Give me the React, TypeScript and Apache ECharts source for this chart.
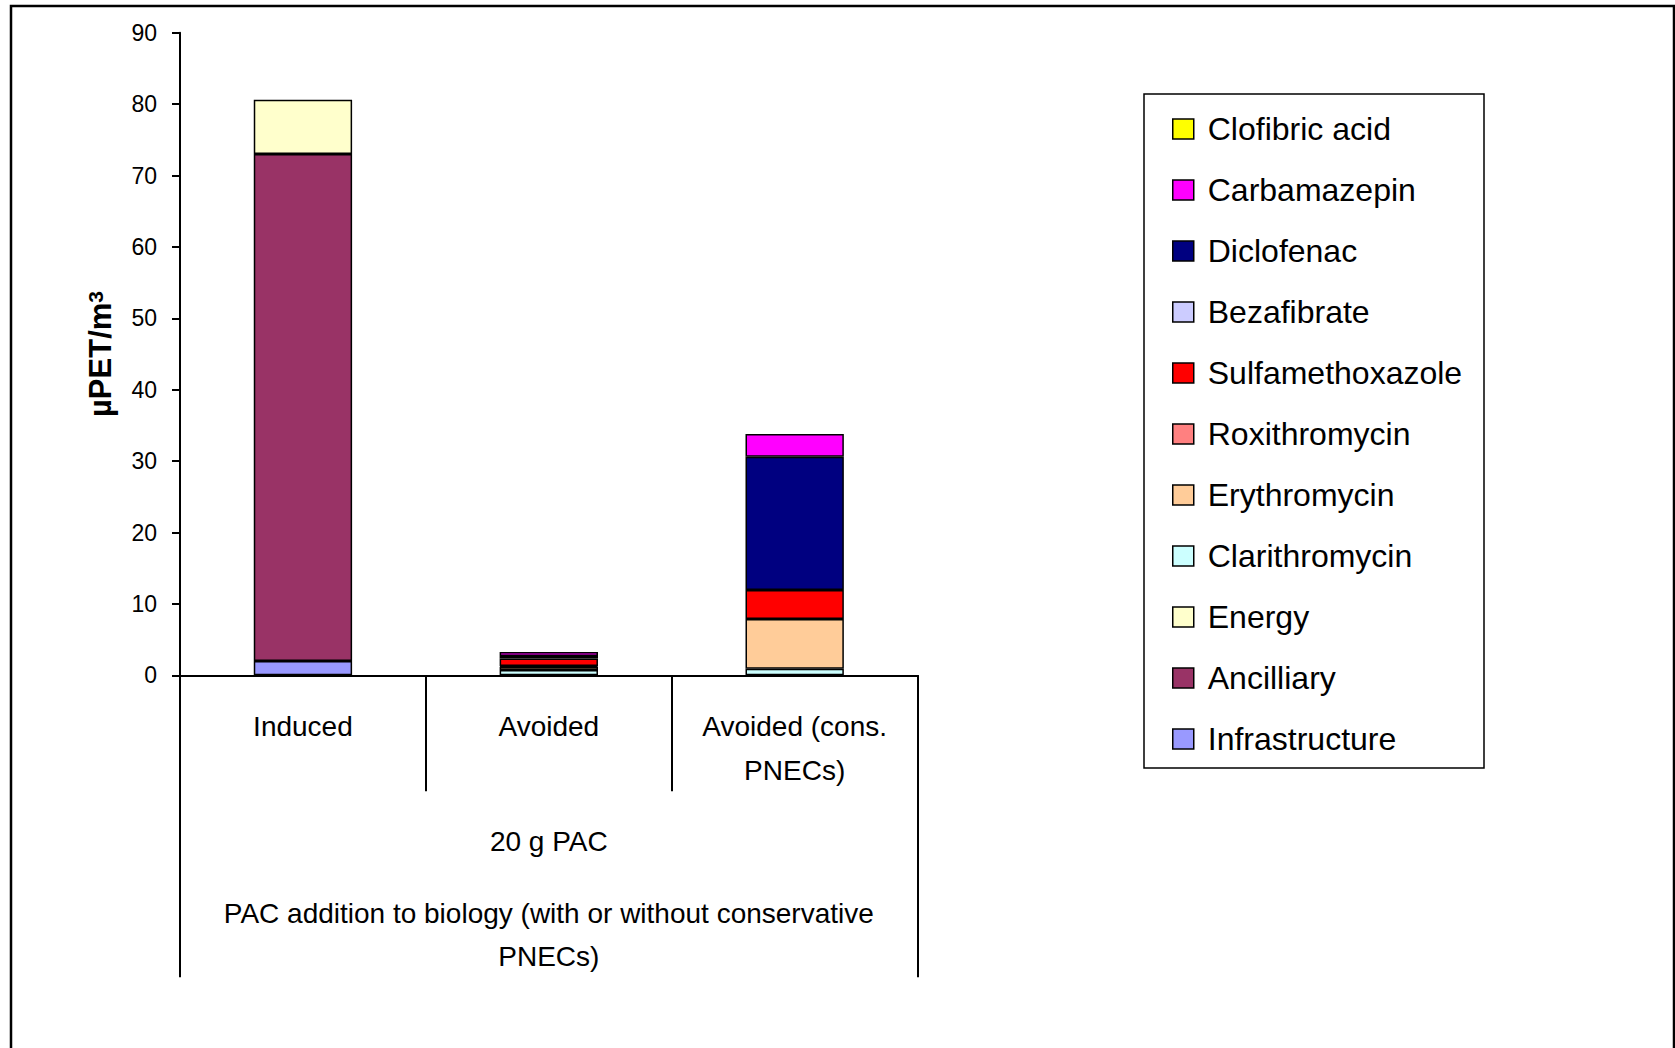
import React, { useEffect, useRef } from "react";
import * as echarts from "echarts";

const categories = ["Induced", "Avoided", "Avoided (cons.\nPNECs)"];
const groupLine1 = "20 g PAC";
const groupLine2 = "PAC addition to biology (with or without conservative";
const groupLine3 = "PNECs)";

// stacking order bottom -> top
const seriesNames = [
  "Infrastructure",
  "Ancilliary",
  "Energy",
  "Clarithromycin",
  "Erythromycin",
  "Roxithromycin",
  "Sulfamethoxazole",
  "Bezafibrate",
  "Diclofenac",
  "Carbamazepin",
  "Clofibric acid",
];
const seriesColors = [
  "#9999FF",
  "#993366",
  "#FFFFCC",
  "#CCFFFF",
  "#FFCC99",
  "#FF8080",
  "#FF0000",
  "#CCCCFF",
  "#000080",
  "#FF00FF",
  "#FFFF00",
];
const infrastructure = [2, null, null];
const ancilliary = [71, null, null];
const energy = [7.6, null, null];
const clarithromycin = [null, 0.75, 0.9];
const erythromycin = [null, 0.45, 7.0];
const roxithromycin = [null, 0.1, null];
const sulfamethoxazole = [null, 1.05, 4.05];
const bezafibrate = [null, null, null];
const diclofenac = [null, 0.35, 18.65];
const carbamazepin = [null, 0.55, 3.2];
const clofibricAcid = [null, null, null];
const seriesValues = [
  infrastructure,
  ancilliary,
  energy,
  clarithromycin,
  erythromycin,
  roxithromycin,
  sulfamethoxazole,
  bezafibrate,
  diclofenac,
  carbamazepin,
  clofibricAcid,
];

const yMin = 0;
const yMax = 90;
const yStep = 10;

const SANS = "'Liberation Sans', Arial, sans-serif";

export default function App() {
  const ref = useRef<HTMLDivElement>(null);
  useEffect(() => {
    if (!ref.current) return;
    const chart = echarts.init(ref.current, null, { renderer: "svg" });
    const series = seriesNames.map((name, i) => ({
      name,
      type: "bar",
      stack: "total",
      xAxisIndex: 0,
      barWidth: "40%",
      data: seriesValues[i],
      itemStyle: { color: seriesColors[i], borderColor: "#000", borderWidth: 1.5 },
    }));
    chart.setOption({
      animation: false,
      backgroundColor: "#fff",
      grid: { left: 180, right: 757.4, top: 32.7, bottom: 372.7, containLabel: false },
      legend: {
        orient: "vertical",
        left: 1172,
        top: 109,
        padding: 0,
        itemGap: 21,
        itemWidth: 21,
        itemHeight: 20,
        icon: "rect",
        data: seriesNames.slice().reverse(),
        textStyle: {
          fontFamily: SANS,
          fontSize: 32,
          color: "#000",
          lineHeight: 40,
          padding: [0, 0, 0, 9],
        },
        itemStyle: { borderColor: "#000", borderWidth: 1.5 },
      },
      xAxis: [
        {
          type: "category",
          data: categories,
          position: "bottom",
          axisLine: { show: true, lineStyle: { color: "#000", width: 2 } },
          axisTick: { show: true, length: 116, lineStyle: { color: "#000", width: 2 } },
          axisLabel: {
            interval: 0,
            margin: 29,
            fontFamily: SANS,
            fontSize: 28,
            lineHeight: 44,
            color: "#000",
          },
        },
        {
          type: "category",
          data: [groupLine1],
          position: "bottom",
          axisLine: { show: false },
          axisTick: { show: true, length: 302, lineStyle: { color: "#000", width: 2 } },
          axisLabel: {
            interval: 0,
            margin: 116,
            color: "#000",
            formatter: () => `{a|${groupLine1}}\n{b|${groupLine2}}\n{b|${groupLine3}}`,
            rich: {
              a: { fontFamily: SANS, fontSize: 28, lineHeight: 101, color: "#000" },
              b: { fontFamily: SANS, fontSize: 28, lineHeight: 43, color: "#000" },
            },
          },
        },
      ],
      yAxis: {
        type: "value",
        min: yMin,
        max: yMax,
        interval: yStep,
        name: "{a|µPET/m}{b|3}",
        nameLocation: "middle",
        nameRotate: 90,
        nameGap: 64,
        nameTextStyle: {
          rich: {
            a: { fontFamily: SANS, fontWeight: "bold", fontSize: 31, color: "#000" },
            b: { fontFamily: SANS, fontWeight: "bold", fontSize: 21, color: "#000", verticalAlign: "top" },
          },
        },
        splitLine: { show: false },
        axisLine: { show: true, lineStyle: { color: "#000", width: 2 } },
        axisTick: { show: true, length: 8, lineStyle: { color: "#000", width: 2 } },
        axisLabel: { margin: 23, fontFamily: SANS, fontSize: 23, color: "#000" },
      },
      graphic: [
        {
          type: "rect",
          shape: { x: 11, y: 6, width: 1663, height: 1100 },
          style: { fill: "none", stroke: "#000", lineWidth: 2.5 },
          silent: true,
        },
        {
          type: "rect",
          shape: { x: 1144, y: 94, width: 340, height: 674 },
          style: { fill: "none", stroke: "#000", lineWidth: 1.5 },
          silent: true,
        },
      ],
      series,
    });
    return () => chart.dispose();
  }, []);
  return (
    <div
      ref={ref}
      style={{ position: "fixed", left: 0, top: 0, width: 1675, height: 1048, background: "#fff" }}
    />
  );
}
